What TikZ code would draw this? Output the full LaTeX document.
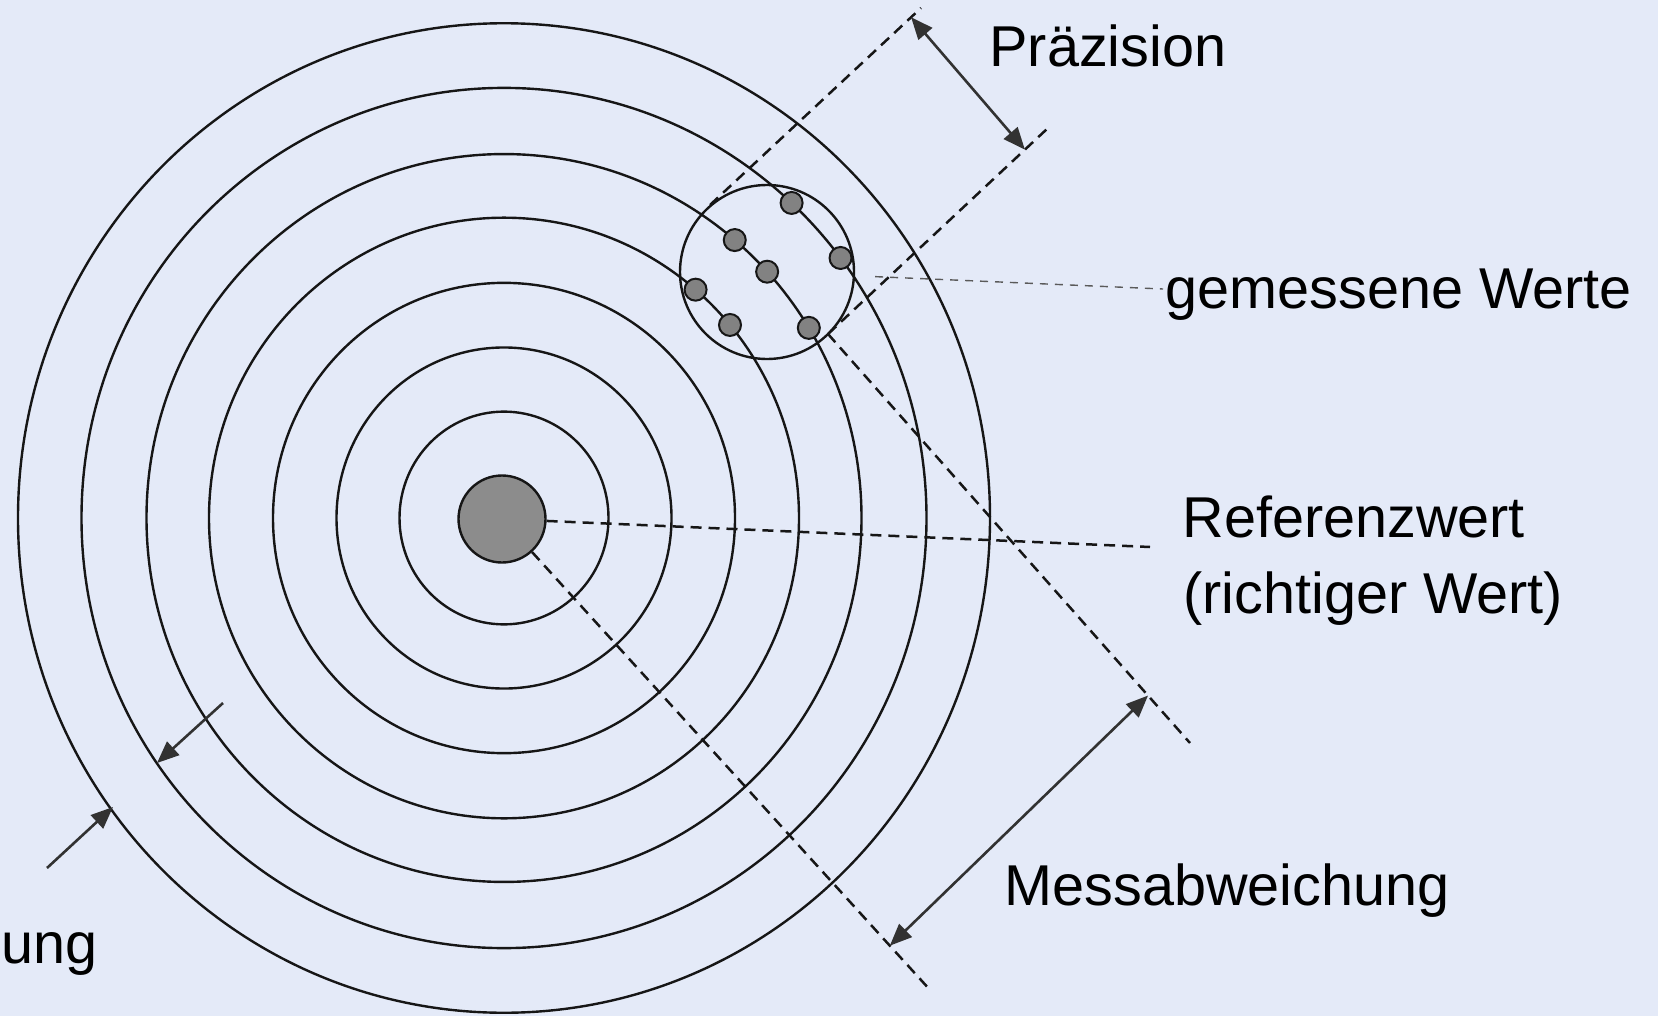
\documentclass[tikz,border=0pt]{standalone}
\usepackage{fontspec}
\setmainfont{Liberation Sans}
\usetikzlibrary{arrows.meta,calc}
\definecolor{bg}{RGB}{228,234,248}
\definecolor{ink}{RGB}{22,22,22}
\definecolor{arrowink}{RGB}{50,50,50}
\definecolor{dotgray}{RGB}{130,130,130}
\definecolor{diskgray}{RGB}{140,140,140}
\definecolor{leadgray}{RGB}{90,90,90}
\begin{document}
\begin{tikzpicture}[x=0.5pt,y=-0.5pt,
  ring/.style={draw=ink,line width=1.2pt},
  dashline/.style={draw=ink,line width=1.25pt,dash pattern=on 5.5pt off 3.5pt},
  leader/.style={draw=leadgray,line width=0.7pt,dash pattern=on 4pt off 3.5pt},
  dimarrow/.style={draw=arrowink,line width=1.3pt,{Triangle[length=11pt,width=9pt]}-{Triangle[length=11pt,width=9pt]},fill=arrowink},
  ptrarrow/.style={draw=arrowink,line width=1.3pt,-{Triangle[length=11pt,width=9pt]},fill=arrowink},
  meas/.style={circle,draw=ink,line width=1pt,fill=dotgray,minimum size=11pt,inner sep=0pt},
  lbl/.style={anchor=base west,inner sep=0pt,font=\fontsize{28.8}{34}\selectfont,text=black},
]
% canvas
\fill[bg] (0,0) rectangle (1658,1016);
\useasboundingbox (0,0) rectangle (1658,1016);

% target rings
\foreach \r in {104.5,167.5,231,295,357.5,422.5,486}
  \draw[ring] (504,518) ellipse [x radius=\r*0.5pt, y radius=\r*0.509pt];

% reference value disk and cluster of measured values
\node[circle,draw=ink,line width=1.2pt,fill=diskgray,minimum size=43.5pt,inner sep=0pt] (ref) at (502,519) {};
\node[circle,draw=ink,line width=1.2pt,minimum size=87pt,inner sep=0pt] (cluster) at (767,272) {};

% construction coordinates
\coordinate (p1s) at (710,205);
\coordinate (p1e) at (921,8);
\coordinate (p2s) at (828,334);
\coordinate (p2e) at (1048,128);
\coordinate (m1e) at (931,991);
\coordinate (m2e) at (1190,743);
\coordinate (refEnd) at (1150,547);
\coordinate (gwEnd) at (1163,289);
\coordinate (pa1) at ($(p1s)!0.953!(p1e)$);
\coordinate (pa2) at ($(p2s)!0.895!(p2e)$);
\coordinate (ma1) at ($(ref)!0.904!(m1e)$);
\coordinate (ma2) at ($(p2s)!0.884!(m2e)$);
\coordinate (la1s) at (223,703);
\coordinate (la1e) at (157,763);
\coordinate (la2s) at (47,868);
\coordinate (la2e) at (113,807);

% dashed construction lines
\draw[dashline] (p1s) -- (p1e);
\draw[dashline] (p2s) -- (p2e);
\draw[dashline] (ref) -- (m1e);
\draw[dashline] (p2s) -- (m2e);
\draw[dashline] (ref) -- (refEnd);
\draw[leader, shorten <=10pt] (cluster) -- (gwEnd);

% measured values on the rings
\node[meas] (d1) at ({504+422.5*cos(47.1)},{518-430.1*sin(47.1)}) {};
\node[meas] (d2) at ({504+357.5*cos(49.8)},{518-363.9*sin(49.8)}) {};
\node[meas] (d3) at ({504+422.5*cos(37.2)},{518-430.1*sin(37.2)}) {};
\node[meas] (d4) at ({504+357.5*cos(42.6)},{518-363.9*sin(42.6)}) {};
\node[meas] (d5) at ({504+295*cos(49.5)},{518-300.3*sin(49.5)}) {};
\node[meas] (d6) at ({504+295*cos(40.0)},{518-300.3*sin(40.0)}) {};
\node[meas] (d7) at ({504+357.5*cos(31.5)},{518-363.9*sin(31.5)}) {};

% dimension arrows
\draw[dimarrow] (pa1) -- (pa2);
\draw[dimarrow] (ma1) -- (ma2);
\draw[ptrarrow] (la1s) -- (la1e);
\draw[ptrarrow] (la2s) -- (la2e);

% labels
\node[lbl] (praez) at (989,67) {Präzision};
\node[lbl] (gw) at (1165,308) {gemessene Werte};
\node[lbl] (ref1) at (1182,537) {Referenzwert};
\node[lbl] (ref2) at (1183,613) {(richtiger Wert)};
\node[lbl] (messab) at (1004,905) {Messabweichung};
\node[lbl] (ung) at (1,963) {ung};
\end{tikzpicture}
\end{document}
